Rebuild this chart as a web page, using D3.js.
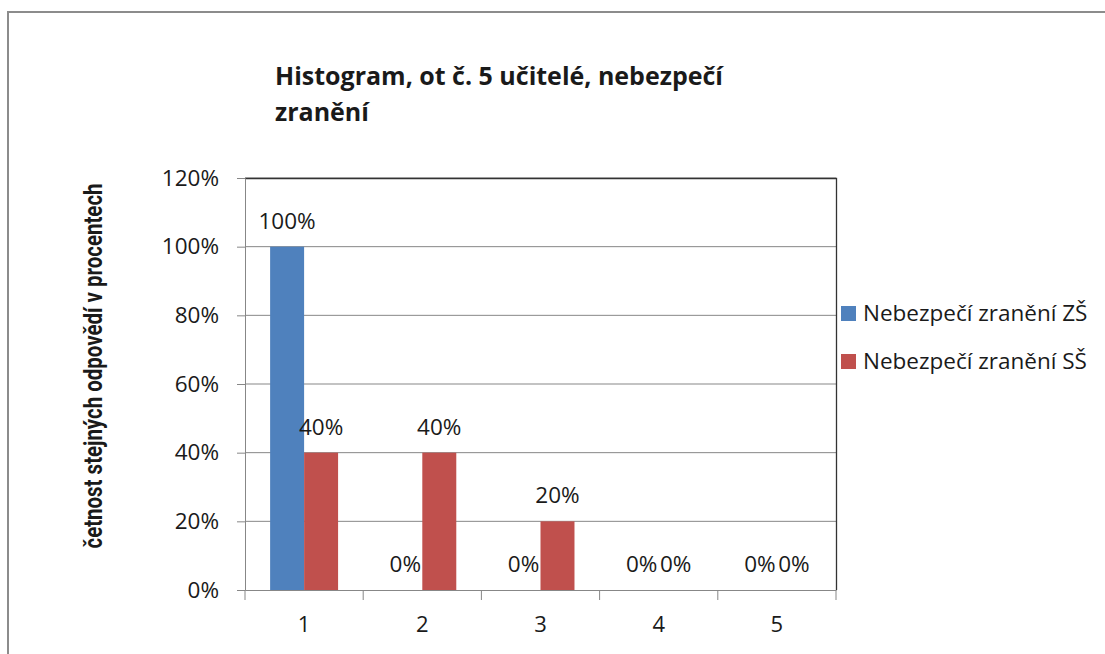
<!DOCTYPE html>
<html>
<head>
<meta charset="utf-8">
<script src="https://cdn.jsdelivr.net/npm/d3@7"></script>
<style>
  body { margin: 0; background: #fff; }
  svg text { font-family: "Open Sans", sans-serif; fill: #1a1a1a; }
</style>
</head>
<body>
<svg width="1105" height="654"></svg>
<script>
// data
var categories = ["1", "2", "3", "4", "5"];
var seriesNames = ["Nebezpečí zranění ZŠ", "Nebezpečí zranění SŠ"];
var valuesZS = [1.0, 0.0, 0.0, 0.0, 0.0];
var valuesSS = [0.4, 0.4, 0.2, 0.0, 0.0];
var yTicks = [0, 0.2, 0.4, 0.6, 0.8, 1.0, 1.2];
var colors = ["#4F81BD", "#C0504D"];

var plotLeft = 245,
    plotRight = 836,
    plotTop = 178,
    plotBottom = 590;

var svg = d3.select("svg");

// outer frame
svg.append("rect")
    .attr("x", 8)
    .attr("y", 12)
    .attr("width", 1120)
    .attr("height", 700)
    .attr("fill", "none")
    .attr("stroke", "#8c8c8c")
    .attr("stroke-width", 2);

var x = d3.scaleBand()
    .domain(categories)
    .range([plotLeft, plotRight])
    .paddingInner(0.425)
    .paddingOuter(0.2125);

var xs = d3.scaleBand()
    .domain(seriesNames)
    .range([0, x.bandwidth()]);

var y = d3.scaleLinear()
    .domain([0, 1.2])
    .range([plotBottom, plotTop]);

// gridlines
svg.append("g")
    .selectAll("line")
    .data(yTicks.slice(1))
    .join("line")
    .attr("x1", plotLeft)
    .attr("x2", plotRight)
    .attr("y1", d => y(d))
    .attr("y2", d => y(d))
    .attr("stroke", "#878787")
    .attr("stroke-width", 1);

// plot border top / right
svg.append("path")
    .attr("d", "M" + plotLeft + "," + (plotTop + 0.5) + "H" + (plotRight + 0.5) + "V" + plotBottom)
    .attr("fill", "none")
    .attr("stroke", "#333")
    .attr("stroke-width", 1.3);

// bars
var table = categories.map((c, i) => ({ cat: c, vals: [valuesZS[i], valuesSS[i]] }));

var groups = svg.append("g")
    .selectAll("g")
    .data(table)
    .join("g")
    .attr("transform", d => "translate(" + x(d.cat) + ",0)");

groups.selectAll("rect")
    .data(d => d.vals.map((v, k) => ({ name: seriesNames[k], v: v, k: k })))
    .join("rect")
    .attr("x", d => xs(d.name))
    .attr("width", xs.bandwidth())
    .attr("y", d => y(d.v))
    .attr("height", d => y(0) - y(d.v))
    .attr("fill", d => colors[d.k]);

groups.selectAll("text")
    .data(d => d.vals.map((v, k) => ({ name: seriesNames[k], v: v, k: k })))
    .join("text")
    .attr("x", d => xs(d.name) + xs.bandwidth() / 2)
    .attr("y", d => y(d.v) - 18)
    .attr("text-anchor", "middle")
    .attr("font-size", "22.5px")
    .text(d => d3.format(".0%")(d.v));

// y axis
var yAxis = svg.append("g")
    .attr("transform", "translate(" + plotLeft + ",0)")
    .call(d3.axisLeft(y).tickValues(yTicks).tickFormat(d3.format(".0%")).tickSize(8).tickPadding(18));
yAxis.select(".domain").attr("stroke", "#878787");
yAxis.selectAll(".tick line").attr("stroke", "#878787");
yAxis.selectAll(".tick text")
    .attr("font-size", "22.5px")
    .attr("font-family", "Open Sans, sans-serif")
    .attr("fill", "#1a1a1a");

// x axis
var xAxis = svg.append("g")
    .attr("transform", "translate(0," + plotBottom + ")")
    .call(d3.axisBottom(x).tickSize(0).tickPadding(26));
xAxis.select(".domain").attr("stroke", "#878787");
xAxis.selectAll(".tick text")
    .attr("font-size", "22px")
    .attr("font-family", "Open Sans, sans-serif")
    .attr("fill", "#1a1a1a");

var bounds = categories.map(c => x(c) - x.step() * x.paddingInner() / 2);
bounds.push(plotRight);
xAxis.append("g")
    .selectAll("line")
    .data(bounds)
    .join("line")
    .attr("x1", d => d)
    .attr("x2", d => d)
    .attr("y1", 0)
    .attr("y2", 10)
    .attr("stroke", "#878787");

// title
var title = svg.append("text")
    .attr("x", 275)
    .attr("y", 85)
    .attr("font-size", "25px")
    .attr("font-weight", "bold");
title.append("tspan").attr("x", 275).text("Histogram, ot č. 5 učitelé, nebezpečí");
title.append("tspan").attr("x", 275).attr("dy", 36).text("zranění");

// y label
svg.append("text")
    .attr("transform", "translate(102,366) rotate(-90)")
    .attr("text-anchor", "middle")
    .attr("font-size", "25px")
    .attr("font-weight", "bold")
    .attr("textLength", 365)
    .attr("lengthAdjust", "spacingAndGlyphs")
    .style("font-family", "'Liberation Sans Narrow', 'Roboto', sans-serif")
    .text("četnost stejných odpovědí v procentech");

// legend
var legend = svg.append("g")
    .selectAll("g")
    .data(seriesNames)
    .join("g")
    .attr("transform", (d, i) => "translate(841," + (306 + i * 48) + ")");

legend.append("rect")
    .attr("width", 15)
    .attr("height", 15)
    .attr("fill", (d, i) => colors[i]);

legend.append("text")
    .attr("x", 22)
    .attr("y", 14.5)
    .attr("font-size", "22.5px")
    .text(d => d);
</script>
</body>
</html>
